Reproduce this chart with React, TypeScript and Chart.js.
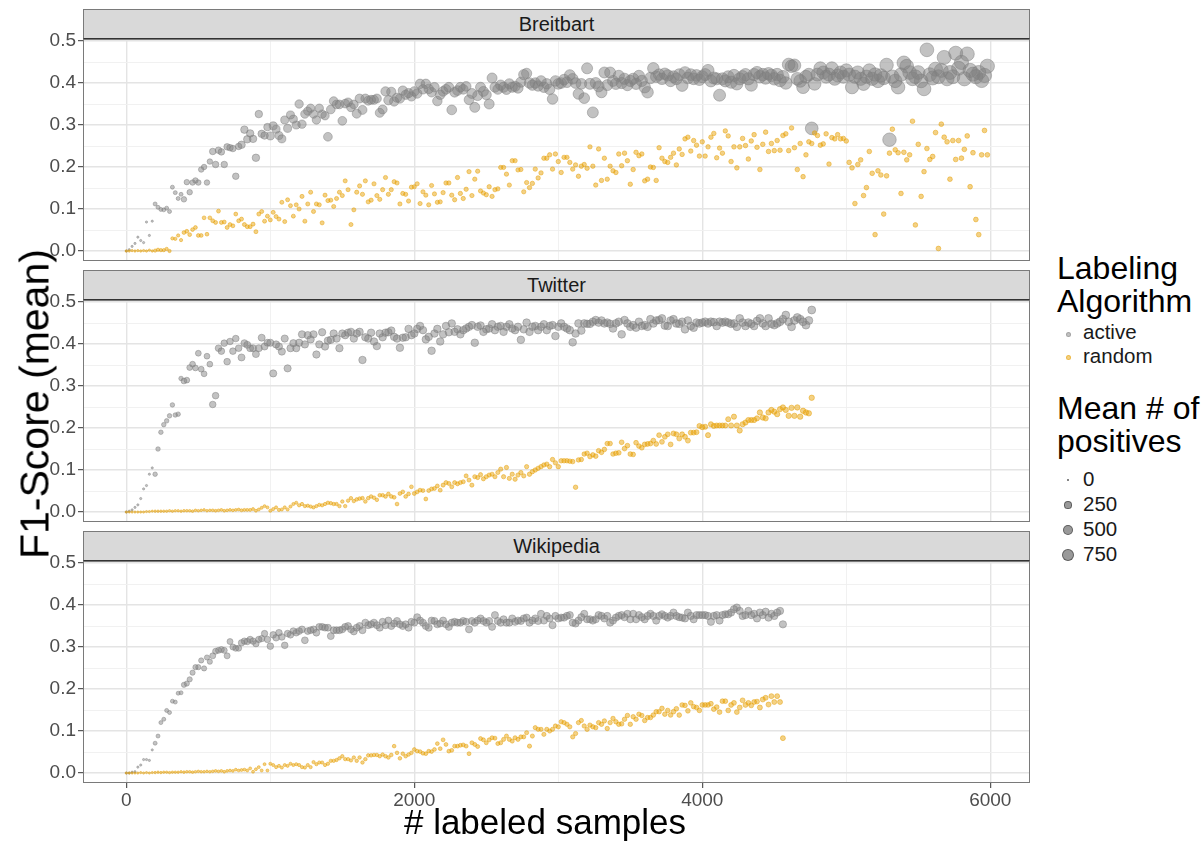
import React, { useEffect, useRef } from "react";
import { Chart, registerables } from "chart.js";

Chart.register(...registerables);

// ---------------- data ----------------
const PANELS = ["Breitbart", "Twitter", "Wikipedia"];
const ALGORITHMS = ["active", "random"];
const SAMPLE_STEP = 20; // labeled samples between two recorded evaluations
const POS_BLOCK = 200; // positives are recorded once per 200 labeled samples
const X_TICKS = [0, 1000, 2000, 3000, 4000, 5000, 6000];
const X_LABELED = [0, 2000, 4000, 6000];
const Y_TICKS = [0, 0.05, 0.1, 0.15, 0.2, 0.25, 0.3, 0.35, 0.4, 0.45, 0.5];
const Y_LABELED = [0, 0.1, 0.2, 0.3, 0.4, 0.5];
const SIZE_BREAKS = [0, 250, 500, 750];

const BREITBART_ACTIVE = [
  0, 0.003, 0.011, 0.018, 0.033, 0.025, 0.02, 0.069, 0.037, 0.071,
  0.112, 0.104, 0.099, 0.098, 0.102, 0.094, 0.152, 0.139, 0.125, 0.135,
  0.123, 0.164, 0.14, 0.163, 0.168, 0.163, 0.194, 0.2, 0.163, 0.213,
  0.237, 0.206, 0.24, 0.236, 0.206, 0.248, 0.246, 0.244, 0.178, 0.249,
  0.253, 0.289, 0.266, 0.28, 0.267, 0.222, 0.326, 0.279, 0.275, 0.295,
  0.274, 0.298, 0.29, 0.275, 0.267, 0.312, 0.292, 0.324, 0.314, 0.3,
  0.35, 0.302, 0.326, 0.333, 0.34, 0.326, 0.312, 0.34, 0.326, 0.322,
  0.272, 0.337, 0.357, 0.349, 0.349, 0.31, 0.351, 0.354, 0.342, 0.349,
  0.327, 0.363, 0.336, 0.363, 0.358, 0.36, 0.36, 0.363, 0.329, 0.337,
  0.38, 0.359, 0.379, 0.356, 0.365, 0.363, 0.382, 0.372, 0.376, 0.368,
  0.38, 0.375, 0.398, 0.385, 0.398, 0.386, 0.378, 0.39, 0.357, 0.372,
  0.38, 0.385, 0.39, 0.336, 0.378, 0.382, 0.39, 0.385, 0.392, 0.36,
  0.375, 0.342, 0.37, 0.39, 0.38, 0.372, 0.35, 0.412, 0.39, 0.385,
  0.395, 0.39, 0.385, 0.398, 0.39, 0.392, 0.388, 0.402, 0.42, 0.423,
  0.4, 0.395, 0.4, 0.393, 0.405, 0.39, 0.398, 0.385, 0.362, 0.405,
  0.398, 0.4, 0.408, 0.402, 0.419, 0.41, 0.4, 0.374, 0.398, 0.364,
  0.435, 0.398, 0.33, 0.4, 0.392, 0.378, 0.425, 0.395, 0.425, 0.405,
  0.398, 0.417, 0.4, 0.41, 0.395, 0.405, 0.41, 0.398, 0.417, 0.405,
  0.39, 0.378, 0.412, 0.435, 0.415, 0.42, 0.41, 0.422, 0.418, 0.405,
  0.415, 0.41, 0.42, 0.394, 0.425, 0.412, 0.42, 0.41, 0.418, 0.408,
  0.415, 0.42, 0.43, 0.405, 0.412, 0.41, 0.371, 0.41, 0.405, 0.415,
  0.402, 0.418, 0.398, 0.41, 0.415, 0.42, 0.41, 0.395, 0.42, 0.425,
  0.415, 0.42, 0.412, 0.422, 0.418, 0.41, 0.42, 0.406, 0.415, 0.4,
  0.444, 0.44, 0.442, 0.41, 0.405, 0.39, 0.415, 0.42, 0.292, 0.398,
  0.42, 0.435, 0.425, 0.415, 0.42, 0.435, 0.41, 0.418, 0.425, 0.415,
  0.43, 0.42, 0.39, 0.415, 0.425, 0.41, 0.398, 0.415, 0.43, 0.41,
  0.42, 0.405, 0.418, 0.412, 0.443, 0.265, 0.415, 0.405, 0.39, 0.42,
  0.448, 0.44, 0.425, 0.41, 0.415, 0.425, 0.405, 0.386, 0.479, 0.42,
  0.412, 0.433, 0.415, 0.43, 0.461, 0.41, 0.425, 0.415, 0.471, 0.435,
  0.449, 0.41, 0.469, 0.43, 0.421, 0.415, 0.425, 0.406, 0.418, 0.44,
];
const BREITBART_RANDOM = [
  0, 0, 0.001, 0, 0.001, 0, 0.001, 0, 0.002, 0,
  0.001, 0.003, 0.002, 0.002, 0.005, 0, 0.03, 0.029, 0.037, 0.026,
  0.044, 0.047, 0.039, 0.051, 0.056, 0.037, 0.037, 0.079, 0.04, 0.079,
  0.072, 0.068, 0.095, 0.068, 0.069, 0.056, 0.063, 0.06, 0.088, 0.072,
  0.076, 0.063, 0.058, 0.058, 0.064, 0.046, 0.088, 0.094, 0.071, 0.083,
  0.074, 0.092, 0.082, 0.076, 0.116, 0.07, 0.122, 0.108, 0.083, 0.11,
  0.1, 0.13, 0.071, 0.112, 0.14, 0.094, 0.112, 0.11, 0.067, 0.133,
  0.12, 0.121, 0.106, 0.125, 0.14, 0.132, 0.167, 0.146, 0.063, 0.098,
  0.14, 0.155, 0.135, 0.167, 0.117, 0.121, 0.16, 0.132, 0.123, 0.146,
  0.175, 0.135, 0.146, 0.165, 0.162, 0.112, 0.137, 0.135, 0.119, 0.152,
  0.153, 0.16, 0.113, 0.141, 0.133, 0.11, 0.156, 0.136, 0.116, 0.117,
  0.139, 0.162, 0.162, 0.133, 0.122, 0.175, 0.137, 0.125, 0.147, 0.189,
  0.132, 0.171, 0.19, 0.143, 0.138, 0.134, 0.153, 0.13, 0.146, 0.148,
  0.199, 0.199, 0.183, 0.157, 0.215, 0.215, 0.193, 0.194, 0.141, 0.163,
  0.151, 0.161, 0.195, 0.174, 0.186, 0.221, 0.221, 0.229, 0.195, 0.231,
  0.213, 0.187, 0.223, 0.223, 0.211, 0.195, 0.205, 0.178, 0.202, 0.206,
  0.197, 0.248, 0.202, 0.157, 0.243, 0.168, 0.221, 0.171, 0.202, 0.191,
  0.187, 0.231, 0.203, 0.233, 0.215, 0.159, 0.194, 0.235, 0.227, 0.231,
  0.167, 0.171, 0.2, 0.199, 0.168, 0.246, 0.221, 0.213, 0.211, 0.223,
  0.233, 0.205, 0.243, 0.23, 0.267, 0.271, 0.238, 0.263, 0.252, 0.226,
  0.26, 0.226, 0.248, 0.271, 0.28, 0.222, 0.245, 0.233, 0.286, 0.274,
  0.213, 0.248, 0.198, 0.248, 0.268, 0.251, 0.219, 0.262, 0.277, 0.247,
  0.194, 0.254, 0.283, 0.237, 0.256, 0.239, 0.263, 0.24, 0.275, 0.279,
  0.239, 0.293, 0.246, 0.194, 0.256, 0.177, 0.229, 0.26, 0.256, 0.281,
  0.275, 0.252, 0.255, 0.279, 0.207, 0.27, 0.267, 0.277, 0.267, 0.268,
  0.262, 0.211, 0.198, 0.113, 0.206, 0.217, 0.132, 0.151, 0.237, 0.185,
  0.039, 0.191, 0.181, 0.088, 0.179, 0.233, 0.29, 0.241, 0.234, 0.137,
  0.235, 0.217, 0.229, 0.309, 0.062, 0.254, 0.13, 0.189, 0.244, 0.218,
  0.225, 0.282, 0.006, 0.302, 0.271, 0.26, 0.171, 0.263, 0.218, 0.263,
  0.221, 0.242, 0.274, 0.153, 0.234, 0.075, 0.039, 0.229, 0.287, 0.229,
];
const TWITTER_ACTIVE = [
  0, 0.002, 0.005, 0.011, 0.017, 0.032, 0.055, 0.063, 0.09, 0.105,
  0.09, 0.15, 0.19, 0.208, 0.217, 0.229, 0.255, 0.231, 0.233, 0.318,
  0.312, 0.314, 0.344, 0.352, 0.343, 0.378, 0.34, 0.329, 0.371, 0.352,
  0.256, 0.277, 0.39, 0.383, 0.402, 0.358, 0.406, 0.383, 0.413, 0.39,
  0.368, 0.402, 0.398, 0.39, 0.39, 0.376, 0.39, 0.415, 0.394, 0.403,
  0.403, 0.33, 0.399, 0.394, 0.382, 0.413, 0.342, 0.39, 0.402, 0.39,
  0.403, 0.423, 0.399, 0.421, 0.411, 0.423, 0.375, 0.399, 0.428, 0.394,
  0.408, 0.41, 0.425, 0.413, 0.39, 0.425, 0.421, 0.427, 0.429, 0.413,
  0.425, 0.429, 0.362, 0.416, 0.413, 0.427, 0.406, 0.395, 0.425, 0.416,
  0.427, 0.428, 0.432, 0.417, 0.413, 0.391, 0.415, 0.416, 0.436, 0.421,
  0.425, 0.436, 0.443, 0.433, 0.411, 0.417, 0.384, 0.425, 0.436, 0.406,
  0.423, 0.443, 0.428, 0.449, 0.429, 0.435, 0.423, 0.433, 0.437, 0.441,
  0.445, 0.403, 0.441, 0.444, 0.429, 0.435, 0.437, 0.447, 0.433, 0.441,
  0.443, 0.429, 0.441, 0.447, 0.437, 0.433, 0.441, 0.41, 0.435, 0.451,
  0.429, 0.441, 0.443, 0.433, 0.441, 0.447, 0.433, 0.443, 0.445, 0.419,
  0.441, 0.449, 0.441, 0.437, 0.433, 0.404, 0.425, 0.449, 0.432, 0.449,
  0.448, 0.448, 0.453, 0.457, 0.451, 0.456, 0.449, 0.451, 0.448, 0.437,
  0.449, 0.453, 0.423, 0.457, 0.449, 0.441, 0.445, 0.439, 0.453, 0.443,
  0.445, 0.441, 0.459, 0.449, 0.456, 0.457, 0.461, 0.444, 0.443, 0.456,
  0.459, 0.449, 0.448, 0.453, 0.435, 0.456, 0.443, 0.439, 0.451, 0.449,
  0.451, 0.453, 0.449, 0.453, 0.452, 0.443, 0.453, 0.451, 0.453, 0.451,
  0.448, 0.449, 0.441, 0.461, 0.451, 0.443, 0.451, 0.448, 0.443, 0.455,
  0.461, 0.449, 0.443, 0.461, 0.448, 0.445, 0.449, 0.453, 0.459, 0.469,
  0.453, 0.441, 0.456, 0.463, 0.459, 0.453, 0.445, 0.456, 0.481,
];
const TWITTER_RANDOM = [
  0, 0, 0, 0, 0, 0, 0, 0.001, 0.001, 0.002,
  0.002, 0.002, 0.002, 0.002, 0.002, 0.003, 0.002, 0.003, 0.003, 0.002,
  0.003, 0.003, 0.003, 0.002, 0.004, 0.003, 0.004, 0.005, 0.003, 0.004,
  0.004, 0.003, 0.004, 0.005, 0.003, 0.004, 0.005, 0.004, 0.005, 0.006,
  0.004, 0.005, 0.005, 0.005, 0.007, 0.003, 0.006, 0.01, 0.014, 0.011,
  0.003, 0.007, 0.011, 0.005, 0.006, 0.011, 0.006, 0.013, 0.019, 0.022,
  0.016, 0.019, 0.014, 0.015, 0.013, 0.011, 0.014, 0.017, 0.016, 0.019,
  0.022, 0.021, 0.019, 0.019, 0.014, 0.025, 0.014, 0.027, 0.033, 0.026,
  0.03, 0.032, 0.033, 0.025, 0.033, 0.037, 0.034, 0.029, 0.04, 0.04,
  0.037, 0.043, 0.037, 0.035, 0.019, 0.044, 0.048, 0.037, 0.043, 0.06,
  0.044, 0.048, 0.052, 0.051, 0.031, 0.051, 0.055, 0.056, 0.062, 0.052,
  0.064, 0.07, 0.068, 0.06, 0.07, 0.067, 0.07, 0.072, 0.086, 0.076,
  0.064, 0.084, 0.082, 0.089, 0.079, 0.084, 0.088, 0.09, 0.084, 0.094,
  0.102, 0.084, 0.106, 0.08, 0.09, 0.078, 0.088, 0.094, 0.086, 0.108,
  0.09, 0.096, 0.1, 0.104, 0.108, 0.112, 0.114, 0.108, 0.125, 0.117,
  0.108, 0.122, 0.122, 0.122, 0.121, 0.12, 0.059, 0.124, 0.125, 0.138,
  0.14, 0.132, 0.136, 0.133, 0.146, 0.142, 0.149, 0.163, 0.163, 0.138,
  0.14, 0.141, 0.166, 0.151, 0.158, 0.138, 0.137, 0.165, 0.157, 0.153,
  0.161, 0.162, 0.163, 0.17, 0.162, 0.183, 0.167, 0.179, 0.185, 0.161,
  0.187, 0.185, 0.175, 0.185, 0.179, 0.17, 0.189, 0.189, 0.19, 0.205,
  0.202, 0.203, 0.183, 0.209, 0.205, 0.206, 0.206, 0.206, 0.206, 0.221,
  0.206, 0.227, 0.206, 0.194, 0.209, 0.213, 0.219, 0.219, 0.219, 0.223,
  0.237, 0.225, 0.223, 0.237, 0.243, 0.239, 0.233, 0.245, 0.249, 0.243,
  0.229, 0.248, 0.229, 0.249, 0.227, 0.241, 0.237, 0.235, 0.272,
];
const WIKIPEDIA_ACTIVE = [
  0, 0, 0.002, 0.003, 0.014, 0.019, 0.032, 0.032, 0.03, 0.055,
  0.071, 0.088, 0.12, 0.128, 0.149, 0.144, 0.171, 0.169, 0.19, 0.191,
  0.21, 0.213, 0.223, 0.239, 0.252, 0.252, 0.268, 0.249, 0.275, 0.265,
  0.279, 0.29, 0.292, 0.294, 0.292, 0.279, 0.313, 0.3, 0.297, 0.297,
  0.31, 0.314, 0.313, 0.318, 0.314, 0.308, 0.318, 0.32, 0.332, 0.318,
  0.302, 0.329, 0.322, 0.334, 0.324, 0.304, 0.332, 0.329, 0.338, 0.334,
  0.338, 0.342, 0.316, 0.338, 0.34, 0.342, 0.334, 0.348, 0.348, 0.346,
  0.346, 0.326, 0.34, 0.34, 0.34, 0.342, 0.348, 0.35, 0.342, 0.337,
  0.346, 0.35, 0.34, 0.358, 0.352, 0.354, 0.358, 0.352, 0.346, 0.36,
  0.352, 0.363, 0.35, 0.356, 0.362, 0.354, 0.35, 0.354, 0.346, 0.36,
  0.358, 0.371, 0.363, 0.358, 0.35, 0.346, 0.363, 0.362, 0.354, 0.356,
  0.363, 0.354, 0.348, 0.358, 0.36, 0.358, 0.358, 0.362, 0.36, 0.342,
  0.362, 0.358, 0.363, 0.368, 0.362, 0.358, 0.362, 0.348, 0.376, 0.362,
  0.358, 0.366, 0.358, 0.358, 0.368, 0.36, 0.363, 0.362, 0.368, 0.37,
  0.358, 0.363, 0.368, 0.362, 0.379, 0.363, 0.374, 0.368, 0.352, 0.374,
  0.368, 0.37, 0.37, 0.374, 0.376, 0.358, 0.356, 0.363, 0.371, 0.379,
  0.366, 0.366, 0.363, 0.366, 0.376, 0.374, 0.368, 0.374, 0.358, 0.363,
  0.37, 0.374, 0.376, 0.371, 0.379, 0.366, 0.379, 0.366, 0.376, 0.371,
  0.366, 0.374, 0.379, 0.374, 0.363, 0.374, 0.378, 0.374, 0.37, 0.374,
  0.382, 0.374, 0.371, 0.37, 0.368, 0.382, 0.374, 0.366, 0.376, 0.376,
  0.376, 0.376, 0.374, 0.36, 0.374, 0.376, 0.363, 0.376, 0.378, 0.378,
  0.382, 0.39, 0.394, 0.386, 0.374, 0.376, 0.386, 0.376, 0.379, 0.368,
  0.382, 0.376, 0.384, 0.37, 0.379, 0.374, 0.382, 0.386, 0.354,
];
const WIKIPEDIA_RANDOM = [
  0, 0, 0, 0, 0, 0.001, 0, 0.001, 0, 0.001,
  0.001, 0.002, 0.001, 0.002, 0.002, 0.001, 0.002, 0.002, 0.002, 0.003,
  0.002, 0.003, 0.003, 0.002, 0.003, 0.004, 0.003, 0.003, 0.004, 0.003,
  0.004, 0.005, 0.004, 0.005, 0.003, 0.005, 0.006, 0.005, 0.008, 0.006,
  0.007, 0.008, 0.006, 0.011, 0.003, 0.009, 0.014, 0.006, 0.021, 0.006,
  0.022, 0.019, 0.014, 0.017, 0.013, 0.019, 0.017, 0.022, 0.019, 0.021,
  0.019, 0.014, 0.013, 0.019, 0.014, 0.026, 0.021, 0.025, 0.025, 0.019,
  0.022, 0.029, 0.029, 0.031, 0.035, 0.04, 0.033, 0.033, 0.03, 0.037,
  0.029, 0.037, 0.025, 0.033, 0.042, 0.042, 0.043, 0.043, 0.04, 0.044,
  0.04, 0.037, 0.043, 0.064, 0.048, 0.035, 0.046, 0.04, 0.044, 0.048,
  0.056, 0.052, 0.051, 0.047, 0.046, 0.052, 0.051, 0.056, 0.07, 0.058,
  0.079, 0.068, 0.052, 0.054, 0.064, 0.064, 0.066, 0.067, 0.064, 0.046,
  0.072, 0.068, 0.063, 0.082, 0.079, 0.072, 0.079, 0.084, 0.083, 0.07,
  0.072, 0.08, 0.088, 0.08, 0.076, 0.084, 0.08, 0.086, 0.086, 0.096,
  0.064, 0.088, 0.108, 0.104, 0.104, 0.092, 0.104, 0.1, 0.104, 0.112,
  0.11, 0.122, 0.12, 0.116, 0.11, 0.086, 0.094, 0.12, 0.125, 0.112,
  0.104, 0.114, 0.11, 0.108, 0.12, 0.116, 0.124, 0.106, 0.12, 0.13,
  0.122, 0.116, 0.117, 0.128, 0.137, 0.116, 0.134, 0.128, 0.14, 0.137,
  0.125, 0.132, 0.132, 0.138, 0.146, 0.146, 0.154, 0.14, 0.149, 0.138,
  0.146, 0.153, 0.138, 0.162, 0.161, 0.148, 0.167, 0.158, 0.156, 0.149,
  0.162, 0.162, 0.162, 0.165, 0.152, 0.157, 0.145, 0.171, 0.171, 0.149,
  0.162, 0.167, 0.145, 0.156, 0.173, 0.162, 0.167, 0.161, 0.169, 0.17,
  0.156, 0.175, 0.179, 0.163, 0.183, 0.169, 0.183, 0.169, 0.083,
];

// mean number of positives, one value per block of POS_BLOCK labeled samples
const BREITBART_ACTIVE_POS = [12, 69, 156, 237, 326, 380, 420, 460, 494, 530, 557, 590, 625, 660, 696, 730, 772, 810, 851, 890, 934, 975, 1021, 1060, 1111, 1150, 1206, 1250, 1304, 1340];
const BREITBART_RANDOM_POS = [14, 40, 60, 65, 70, 70, 75, 75, 80, 80, 80, 85, 85, 85, 90, 90, 90, 95, 95, 95, 95, 100, 100, 100, 100, 105, 105, 105, 110, 110];
const TWITTER_ACTIVE_POS = [12, 95, 178, 242, 278, 297, 310, 316, 322, 326, 330, 330, 335, 335, 340, 340, 345, 345, 350, 350, 355, 355, 360, 370];
const TWITTER_RANDOM_POS = [12, 16, 20, 25, 30, 35, 41, 47, 53, 59, 65, 71, 77, 83, 89, 95, 101, 108, 115, 122, 129, 136, 143, 150];
const WIKIPEDIA_ACTIVE_POS = [12, 69, 136, 193, 225, 242, 260, 270, 278, 280, 282, 285, 287, 290, 290, 292, 295, 295, 297, 297, 300, 300, 305];
const WIKIPEDIA_RANDOM_POS = [12, 16, 20, 24, 29, 34, 39, 44, 49, 54, 59, 64, 69, 74, 79, 84, 89, 94, 99, 104, 110, 116, 123];

const SERIES = [
  { active: BREITBART_ACTIVE, activePos: BREITBART_ACTIVE_POS, random: BREITBART_RANDOM, randomPos: BREITBART_RANDOM_POS },
  { active: TWITTER_ACTIVE, activePos: TWITTER_ACTIVE_POS, random: TWITTER_RANDOM, randomPos: TWITTER_RANDOM_POS },
  { active: WIKIPEDIA_ACTIVE, activePos: WIKIPEDIA_ACTIVE_POS, random: WIKIPEDIA_RANDOM, randomPos: WIKIPEDIA_RANDOM_POS },
];

// ---------------- style ----------------
const FONT = '"Liberation Sans", Arial, Helvetica, sans-serif';
const ACTIVE_COLOR = "rgba(127,127,127,0.48)";
const RANDOM_COLOR = "rgba(230,159,0,0.48)";
const SIZE_KEY_COLOR = "rgba(0,0,0,0.4)";
const visualRadius = (p: number) => 1 + 0.18 * Math.sqrt(p);

const X_MIN = -294;
const X_MAX = 6276;
const Y_MIN = -0.0238;
const Y_MAX = 0.5048;
const PLOT_LEFT = 84;
const CANVAS_W = 1040;
const PLOT_RIGHT_PAD = 10;
const PLOT_H = 222;
const PAD_TOP = 15;
const X_AXIS_H = 58;
const PANEL_TOPS = [39, 300, 561];
const STRIP_H = 30;

const near = (a: number, list: number[]) => list.some((t) => Math.abs(t - a) < 1e-9);

const panelBorder = {
  id: "panelBorder",
  afterDatasetsDraw(chart: any) {
    const { ctx, chartArea: a } = chart;
    ctx.save();
    ctx.strokeStyle = "#7a7a7a";
    ctx.lineWidth = 1;
    ctx.strokeRect(Math.round(a.left) - 0.5, Math.round(a.top) + 0.5, Math.round(a.right - a.left), Math.round(a.bottom - a.top) - 1);
    ctx.restore();
  },
};

function makeConfig(k: number, bottom: boolean): any {
  const s = SERIES[k];
  const pts = (vals: number[], pos: number[]) =>
    vals.map((y, i) => ({ x: i * SAMPLE_STEP, y, p: pos[Math.floor((i * SAMPLE_STEP) / POS_BLOCK)] }));
  const radius = (c: any) => visualRadius(c.raw ? c.raw.p : 0) - 0.5;
  return {
    type: "scatter",
    data: {
      datasets: [
        {
          label: ALGORITHMS[1],
          data: pts(s.random, s.randomPos),
          backgroundColor: RANDOM_COLOR,
          borderColor: RANDOM_COLOR,
          borderWidth: 1,
          pointRadius: radius,
          pointHoverRadius: radius,
          clip: 0,
        },
        {
          label: ALGORITHMS[0],
          data: pts(s.active, s.activePos),
          backgroundColor: ACTIVE_COLOR,
          borderColor: ACTIVE_COLOR,
          borderWidth: 1,
          pointRadius: radius,
          pointHoverRadius: radius,
          clip: 0,
        },
      ],
    },
    options: {
      responsive: false,
      animation: false,
      events: [],
      layout: { autoPadding: false, padding: { top: PAD_TOP, right: PLOT_RIGHT_PAD, left: 0, bottom: 0 } },
      plugins: { legend: { display: false }, tooltip: { enabled: false } },
      scales: {
        x: {
          type: "linear",
          min: X_MIN,
          max: X_MAX,
          afterBuildTicks: (sc: any) => {
            sc.ticks = X_TICKS.map((v) => ({ value: v }));
          },
          afterFit: (sc: any) => {
            sc.height = bottom ? X_AXIS_H : 0;
            sc.paddingLeft = 0;
            sc.paddingRight = 0;
          },
          border: { display: false },
          grid: {
            color: (c: any) => (near(c.tick ? c.tick.value : 1, X_LABELED) ? "#e4e4e4" : "#efefef"),
            lineWidth: (c: any) => (near(c.tick ? c.tick.value : 1, X_LABELED) ? 1.4 : 0.9),
            drawTicks: bottom,
            tickLength: 5,
            tickWidth: 1,
            tickColor: (c: any) => (near(c.tick ? c.tick.value : 1, X_LABELED) ? "#333333" : "rgba(0,0,0,0)"),
          },
          ticks: {
            display: bottom,
            autoSkip: false,
            maxRotation: 0,
            padding: 1,
            color: "#4d4d4d",
            font: { family: FONT, size: 19 },
            callback: (v: number) => (near(v, X_LABELED) ? String(v) : ""),
          },
        },
        y: {
          type: "linear",
          position: "left",
          min: Y_MIN,
          max: Y_MAX,
          afterBuildTicks: (sc: any) => {
            sc.ticks = Y_TICKS.map((v) => ({ value: v }));
          },
          afterFit: (sc: any) => {
            sc.width = PLOT_LEFT;
            sc.paddingTop = 0;
            sc.paddingBottom = 0;
          },
          border: { display: false },
          grid: {
            color: (c: any) => (near(c.tick ? c.tick.value : 1, Y_LABELED) ? "#e4e4e4" : "#efefef"),
            lineWidth: (c: any) => (near(c.tick ? c.tick.value : 1, Y_LABELED) ? 1.4 : 0.9),
            drawTicks: true,
            tickLength: 6,
            tickWidth: 1,
            tickColor: (c: any) => (near(c.tick ? c.tick.value : 1, Y_LABELED) ? "#333333" : "rgba(0,0,0,0)"),
          },
          ticks: {
            autoSkip: false,
            padding: 2,
            color: "#4d4d4d",
            font: { family: FONT, size: 19 },
            callback: (v: number) => (near(v, Y_LABELED) ? v.toFixed(1) : ""),
          },
        },
      },
    },
    plugins: [panelBorder],
  };
}

function Dot({ cx, cy, d, color }: { cx: number; cy: number; d: number; color: string }) {
  return (
    <div
      style={{
        position: "absolute",
        left: cx - d / 2,
        top: cy - d / 2,
        width: d,
        height: d,
        borderRadius: "50%",
        background: color,
        border: `1px solid ${color}`,
        boxSizing: "border-box",
      }}
    />
  );
}

export default function App() {
  const refs = [useRef<HTMLCanvasElement>(null), useRef<HTMLCanvasElement>(null), useRef<HTMLCanvasElement>(null)];

  useEffect(() => {
    const charts = refs.map((r, k) => new Chart(r.current as HTMLCanvasElement, makeConfig(k, k === 2)));
    return () => charts.forEach((c) => c.destroy());
  }, []);

  const legendLabel = (text: string, cy: number, size: number) => (
    <div
      style={{
        position: "absolute",
        left: 1083,
        top: cy - size / 2 - 1,
        fontSize: size,
        lineHeight: `${size}px`,
        color: "#1a1a1a",
        whiteSpace: "nowrap",
      }}
    >
      {text}
    </div>
  );

  return (
    <div
      style={{
        position: "fixed",
        left: 0,
        top: 0,
        width: 1204,
        height: 841,
        background: "#ffffff",
        overflow: "hidden",
        fontFamily: FONT,
      }}
    >
      {PANELS.map((name, k) => (
        <canvas
          key={`c${name}`}
          ref={refs[k]}
          width={CANVAS_W}
          height={PAD_TOP + PLOT_H + (k === 2 ? X_AXIS_H : 0)}
          style={{
            position: "absolute",
            left: 0,
            top: PANEL_TOPS[k] - PAD_TOP,
            width: CANVAS_W,
            height: PAD_TOP + PLOT_H + (k === 2 ? X_AXIS_H : 0),
          }}
        />
      ))}
      {PANELS.map((name, k) => (
        <div
          key={`s${name}`}
          style={{
            position: "absolute",
            left: PLOT_LEFT - 1,
            top: PANEL_TOPS[k] - STRIP_H,
            width: CANVAS_W - PLOT_RIGHT_PAD - PLOT_LEFT + 1,
            height: STRIP_H,
            boxSizing: "border-box",
            background: "#d9d9d9",
            borderTop: "1px solid #7a7a7a",
            borderLeft: "1px solid #7a7a7a",
            borderRight: "1px solid #7a7a7a",
            borderBottom: "1px solid #333333",
            display: "flex",
            alignItems: "center",
            justifyContent: "center",
            fontSize: 20,
            color: "#1a1a1a",
          }}
        >
          {name}
        </div>
      ))}
      {/* y axis title */}
      <div
        style={{
          position: "absolute",
          left: 35,
          top: 404,
          transform: "translate(-50%, -50%) rotate(-90deg)",
          fontSize: 41,
          lineHeight: "41px",
          whiteSpace: "nowrap",
          color: "#000",
        }}
      >
        F1-Score (mean)
      </div>
      {/* x axis title */}
      <div
        style={{
          position: "absolute",
          left: 545,
          top: 804,
          transform: "translateX(-50%)",
          fontSize: 35,
          lineHeight: "35px",
          whiteSpace: "nowrap",
          color: "#000",
        }}
      >
        # labeled samples
      </div>
      {/* legend: algorithm */}
      <div style={{ position: "absolute", left: 1057, top: 252, fontSize: 32, lineHeight: "33px", whiteSpace: "pre", color: "#000" }}>
        {"Labeling\nAlgorithm"}
      </div>
      <Dot cx={1068} cy={334} d={5} color={ACTIVE_COLOR} />
      <Dot cx={1068} cy={357} d={5} color={RANDOM_COLOR} />
      {legendLabel(ALGORITHMS[0], 333, 20.5)}
      {legendLabel(ALGORITHMS[1], 357, 20.5)}
      {/* legend: size */}
      <div style={{ position: "absolute", left: 1057, top: 392, fontSize: 32, lineHeight: "33px", whiteSpace: "pre", color: "#000" }}>
        {"Mean # of\npositives"}
      </div>
      {SIZE_BREAKS.map((b, i) => (
        <React.Fragment key={`k${b}`}>
          <Dot cx={1068} cy={480 + 25 * i} d={2 * visualRadius(b)} color={SIZE_KEY_COLOR} />
          {legendLabel(String(b), 480 + 25 * i, 20.5)}
        </React.Fragment>
      ))}
    </div>
  );
}
